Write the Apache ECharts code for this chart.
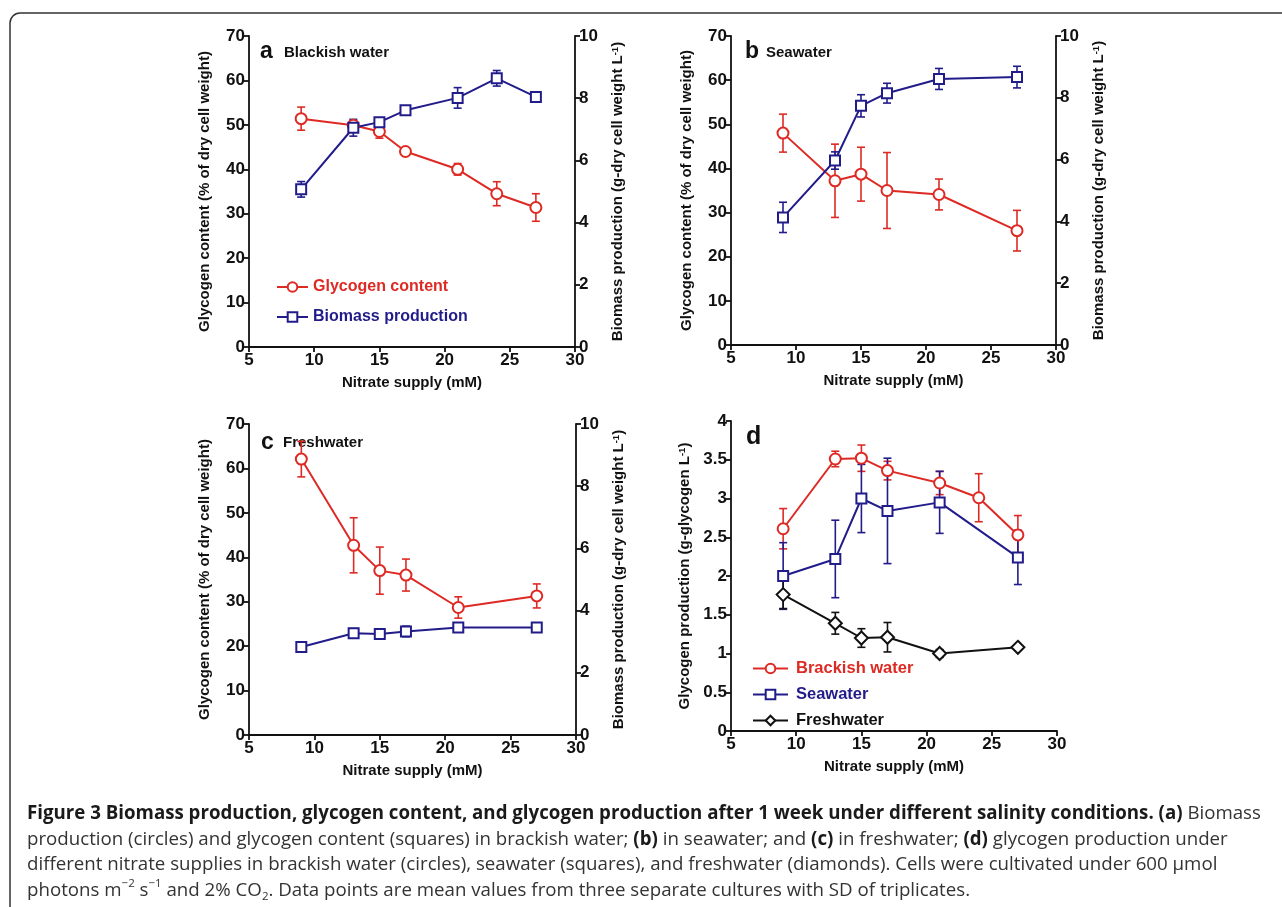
<!DOCTYPE html>
<html>
<head>
<meta charset="utf-8">
<script src="https://cdn.jsdelivr.net/npm/echarts@6/dist/echarts.min.js"></script>
<style>
  html, body { margin: 0; padding: 0; background: #fff; }
  #main { width: 1282px; height: 907px; }
</style>
</head>
<body>
<div id="main"></div>
<script>
var myChart = echarts.init(document.getElementById('main'));

// nitrate supply (mM)
var nitrate7 = [9, 13, 15, 17, 21, 24, 27];
var nitrate6 = [9, 13, 15, 17, 21, 27];

// a: brackish water
var glyA = [51.4, 49.9, 48.5, 44.0, 40.0, 34.5, 31.4];
var glyASd = [2.6, 1.0, 1.5, 0.3, 1.3, 2.7, 3.1];
var bioA = [5.07, 7.05, 7.23, 7.61, 8.01, 8.64, 8.04];
var bioASd = [0.25, 0.27, 0.05, 0, 0.33, 0.25, 0];

// b: seawater
var glyB = [48.0, 37.2, 38.7, 35.0, 34.1, 25.9];
var glyBSd = [4.3, 8.3, 6.1, 8.6, 3.5, 4.6];
var bioB = [4.13, 5.97, 7.74, 8.15, 8.61, 8.67];
var bioBSd = [0.49, 0.28, 0.36, 0.32, 0.34, 0.35];

// c: freshwater
var glyC = [62.1, 42.7, 37.0, 36.0, 28.7, 31.3];
var glyCSd = [4.0, 6.2, 5.3, 3.6, 2.4, 2.7];
var bioC = [2.83, 3.27, 3.25, 3.33, 3.46, 3.46];
var bioCSd = [0.05, 0.15, 0.15, 0.17, 0, 0];

// d: glycogen production
var prodBrackish = [2.61, 3.51, 3.52, 3.36, 3.20, 3.01, 2.53];
var prodBrackishSd = [0.26, 0.10, 0.17, 0.12, 0.15, 0.31, 0.25];
var prodSea = [2.00, 2.22, 3.00, 2.84, 2.95, 2.24];
var prodSeaSd = [0.43, 0.50, 0.44, 0.68, 0.40, 0.35];
var prodFresh = [1.76, 1.39, 1.20, 1.21, 1.00, 1.08];
var prodFreshSd = [0.18, 0.14, 0.12, 0.19, 0.05, 0.03];

var RED = '#de2a24';
var NAVY = '#221c8a';
var BLACK = '#111';
var FONT = "'Liberation Sans', Arial, sans-serif";
var CAP = "'Open Sans', sans-serif";

function pairs(xs, ys) {
  return xs.map(function (x, i) { return [x, ys[i]]; });
}
function triples(xs, ys, sd) {
  return xs.map(function (x, i) { return [x, ys[i], sd[i]]; });
}

function errRender(color) {
  return function (params, api) {
    var x = api.value(0), y = api.value(1), s = api.value(2);
    if (!s) return;
    var hi = api.coord([x, y + s]);
    var lo = api.coord([x, y - s]);
    var w = 4;
    var st = { stroke: color, lineWidth: 1.6 };
    return {
      type: 'group',
      children: [
        { type: 'line', shape: { x1: hi[0], y1: hi[1], x2: lo[0], y2: lo[1] }, style: st },
        { type: 'line', shape: { x1: hi[0] - w, y1: hi[1], x2: hi[0] + w, y2: hi[1] }, style: st },
        { type: 'line', shape: { x1: lo[0] - w, y1: lo[1], x2: lo[0] + w, y2: lo[1] }, style: st }
      ]
    };
  };
}

var axisLine = { lineStyle: { color: '#111', width: 1.8 } };
var axisTick = { length: 5, lineStyle: { color: '#111', width: 1.8 } };
var labelStyle = { color: '#111', fontSize: 17, fontWeight: 'bold', fontFamily: FONT };
var nameStyle = {
  color: '#111', fontSize: 15, fontWeight: 'bold', fontFamily: FONT,
  rich: { sup: { fontSize: 9.5, fontWeight: 'bold', fontFamily: FONT, color: '#111', verticalAlign: 'top', lineHeight: 12 } }
};

function xAxis(g) {
  return {
    type: 'value', gridIndex: g, min: 5, max: 30, interval: 5,
    name: 'Nitrate supply (mM)', nameLocation: 'middle', nameGap: 28,
    nameTextStyle: nameStyle,
    axisLine: axisLine, axisTick: axisTick, axisLabel: Object.assign({ margin: 5 }, labelStyle),
    splitLine: { show: false }
  };
}
function yLeft(g) {
  return {
    type: 'value', gridIndex: g, min: 0, max: 70, interval: 10, position: 'left',
    name: 'Glycogen content (% of dry cell weight)', nameLocation: 'middle', nameGap: 37,
    nameTextStyle: nameStyle,
    axisLine: Object.assign({ show: true }, axisLine), axisTick: Object.assign({ show: true }, axisTick),
    axisLabel: Object.assign({ margin: 4 }, labelStyle),
    splitLine: { show: false }
  };
}
function yRight(g) {
  return {
    type: 'value', gridIndex: g, min: 0, max: 10, interval: 2, position: 'right',
    name: 'Biomass production (g-dry cell weight L{sup|-1})', nameLocation: 'middle', nameGap: 35,
    nameTextStyle: nameStyle,
    axisLine: Object.assign({ show: true }, axisLine), axisTick: Object.assign({ show: true }, axisTick),
    axisLabel: Object.assign({ margin: 4 }, labelStyle),
    splitLine: { show: false }
  };
}

function lineSeries(name, xi, yi, data, color, symbol, size) {
  return {
    name: name, type: 'line', xAxisIndex: xi, yAxisIndex: yi, data: data,
    symbol: symbol, symbolSize: size, z: 3,
    lineStyle: { color: color, width: 2 },
    itemStyle: { color: color, borderColor: color, borderWidth: 1.5 }
  };
}
function errSeries(xi, yi, data, color) {
  return {
    type: 'custom', xAxisIndex: xi, yAxisIndex: yi, data: data, z: 2,
    renderItem: errRender(color), silent: true
  };
}

var option = {
  animation: false,
  backgroundColor: '#fff',
  grid: [
    { left: 249, top: 36, width: 326, height: 311 },
    { left: 731, top: 36, width: 325, height: 309 },
    { left: 249, top: 424, width: 327, height: 311 },
    { left: 731, top: 421, width: 326, height: 310 }
  ],
  xAxis: [xAxis(0), xAxis(1), xAxis(2), xAxis(3)],
  yAxis: [
    yLeft(0), yRight(0),
    yLeft(1), yRight(1),
    yLeft(2), yRight(2),
    {
      type: 'value', gridIndex: 3, min: 0, max: 4, interval: 0.5,
      name: 'Glycogen production (g-glycogen L{sup|-1})', nameLocation: 'middle', nameGap: 39,
      nameTextStyle: nameStyle,
      axisLine: Object.assign({ show: true }, axisLine), axisTick: Object.assign({ show: true }, axisTick),
      axisLabel: Object.assign({ margin: 4 }, labelStyle),
      splitLine: { show: false }
    }
  ],
  legend: [
    {
      data: [
        { name: 'Glycogen content', textStyle: { color: RED } },
        { name: 'Biomass production', textStyle: { color: NAVY } }
      ],
      orient: 'vertical', left: 271, top: 274, itemWidth: 31, itemHeight: 12, itemGap: 14,
      textStyle: { fontSize: 16, fontWeight: 'bold', fontFamily: FONT }
    },
    {
      data: [
        { name: 'Brackish water', textStyle: { color: RED } },
        { name: 'Seawater', textStyle: { color: NAVY } },
        { name: 'Freshwater', textStyle: { color: BLACK } }
      ],
      orient: 'vertical', left: 747, top: 655, itemWidth: 35, itemHeight: 12, itemGap: 9,
      textStyle: { fontSize: 16.5, fontWeight: 'bold', fontFamily: FONT, padding: [0, 0, 0, 3] }
    }
  ],
  graphic: [
    { type: 'rect', shape: { x: 10, y: 13, width: 1300, height: 960, r: 10 }, style: { fill: 'none', stroke: '#333', lineWidth: 1.5 }, silent: true },
    { type: 'text', left: 260, top: 40, style: { text: 'a', font: 'bold 23px ' + FONT, fill: '#111' } },
    { type: 'text', left: 284, top: 45, style: { text: 'Blackish water', font: 'bold 15px ' + FONT, fill: '#111' } },
    { type: 'text', left: 745, top: 40, style: { text: 'b', font: 'bold 23px ' + FONT, fill: '#111' } },
    { type: 'text', left: 766, top: 45, style: { text: 'Seawater', font: 'bold 15px ' + FONT, fill: '#111' } },
    { type: 'text', left: 261, top: 431, style: { text: 'c', font: 'bold 23px ' + FONT, fill: '#111' } },
    { type: 'text', left: 283, top: 435, style: { text: 'Freshwater', font: 'bold 15px ' + FONT, fill: '#111' } },
    { type: 'text', left: 746, top: 425, style: { text: 'd', font: 'bold 25px ' + FONT, fill: '#111' } },
    {
      type: 'text', left: 27, top: 801,
      style: {
        text: '{b|Figure 3 Biomass production, glycogen content, and glycogen production after 1 week under different salinity conditions.} {b|(a)} Biomass\n' +
          'production (circles) and glycogen content (squares) in brackish water; {b|(b)} in seawater; and {b|(c)} in freshwater; {b|(d)} glycogen production under\n' +
          'different nitrate supplies in brackish water (circles), seawater (squares), and freshwater (diamonds). Cells were cultivated under 600 \u03bcmol\n' +
          'photons m{sup|\u22122} s{sup|\u22121} and 2% CO{sub|2}. Data points are mean values from three separate cultures with SD of triplicates.',
        font: '18.7px ' + CAP, fill: '#333', lineHeight: 25.5,
        rich: {
          b: { font: 'bold 18.7px ' + CAP, fill: '#1a1a1a', lineHeight: 25.5 },
          sup: { font: '11.5px ' + CAP, fill: '#333', verticalAlign: 'top', lineHeight: 25.5, padding: [0, 0, 10, 0] },
          sub: { font: '11.5px ' + CAP, fill: '#333', verticalAlign: 'bottom', lineHeight: 25.5, padding: [6, 0, 0, 0] }
        }
      }
    }
  ],
  series: [
    errSeries(0, 0, triples(nitrate7, glyA, glyASd), RED),
    errSeries(0, 1, triples(nitrate7, bioA, bioASd), NAVY),
    lineSeries('Glycogen content', 0, 0, pairs(nitrate7, glyA), RED, 'emptyCircle', 11),
    lineSeries('Biomass production', 0, 1, pairs(nitrate7, bioA), NAVY, 'emptyRect', 10),

    errSeries(1, 2, triples(nitrate6, glyB, glyBSd), RED),
    errSeries(1, 3, triples(nitrate6, bioB, bioBSd), NAVY),
    lineSeries('b glycogen', 1, 2, pairs(nitrate6, glyB), RED, 'emptyCircle', 11),
    lineSeries('b biomass', 1, 3, pairs(nitrate6, bioB), NAVY, 'emptyRect', 10),

    errSeries(2, 4, triples(nitrate6, glyC, glyCSd), RED),
    errSeries(2, 5, triples(nitrate6, bioC, bioCSd), NAVY),
    lineSeries('c glycogen', 2, 4, pairs(nitrate6, glyC), RED, 'emptyCircle', 11),
    lineSeries('c biomass', 2, 5, pairs(nitrate6, bioC), NAVY, 'emptyRect', 10),

    errSeries(3, 6, triples(nitrate7, prodBrackish, prodBrackishSd), RED),
    errSeries(3, 6, triples(nitrate6, prodSea, prodSeaSd), NAVY),
    errSeries(3, 6, triples(nitrate6, prodFresh, prodFreshSd), BLACK),
    lineSeries('Brackish water', 3, 6, pairs(nitrate7, prodBrackish), RED, 'emptyCircle', 11),
    lineSeries('Seawater', 3, 6, pairs(nitrate6, prodSea), NAVY, 'emptyRect', 10),
    lineSeries('Freshwater', 3, 6, pairs(nitrate6, prodFresh), BLACK, 'emptyDiamond', 13)
  ]
};

myChart.setOption(option);
</script>
</body>
</html>
